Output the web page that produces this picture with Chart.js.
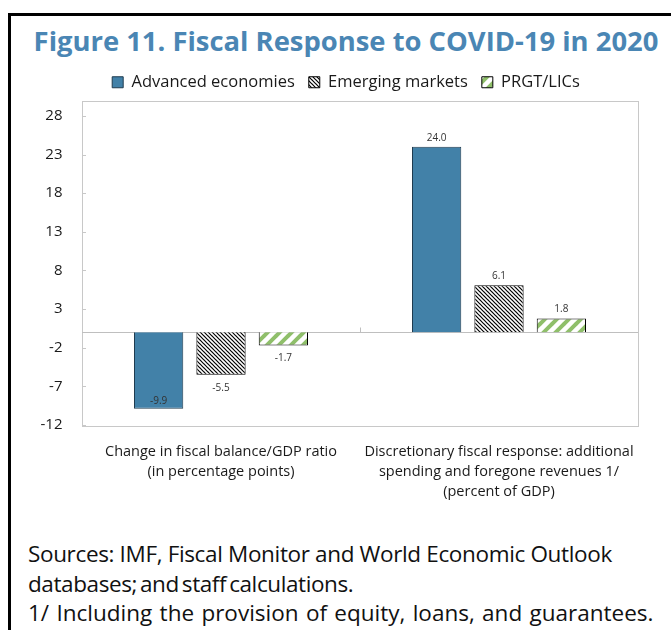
<!DOCTYPE html>
<html>
<head>
<meta charset="utf-8">
<script src="https://cdn.jsdelivr.net/npm/chart.js@4"></script>
<style>
  html, body { margin: 0; padding: 0; background: #fff; }
  body { width: 671px; height: 630px; position: relative; overflow: hidden; font-family: "Open Sans", sans-serif; }
  #frame { position: absolute; left: 8px; top: 13px; width: 700px; height: 700px; border-left: 3px solid #000; border-top: 3px solid #000; }
  #title { position: absolute; left: 0; top: 26px; width: 692px; text-align: center; font-size: 27.4px; line-height: 30px; font-weight: bold; color: #4a86b4; white-space: nowrap; }
  #wrap { position: absolute; left: 0; top: 0; width: 671px; height: 520px; }
  #note { position: absolute; left: 28px; top: 539px; font-size: 22.5px; line-height: 29.5px; color: #111; white-space: nowrap; }
  #note span { display: block; }
  #l1 { letter-spacing: -0.35px; word-spacing: 0px; }
  #l2 { letter-spacing: -0.4px; word-spacing: -2.5px; }
  #l3 { letter-spacing: 0px; word-spacing: 1.5px; }
</style>
</head>
<body>
<div id="frame"></div>
<div id="title">Figure 11. Fiscal Response to COVID-19 in 2020</div>
<div id="wrap"><canvas id="c"></canvas></div>
<div id="note"><span id="l1">Sources: IMF, Fiscal Monitor and World Economic Outlook</span><span id="l2">databases; and staff calculations.</span><span id="l3">1/ Including the provision of equity, loans, and guarantees.</span></div>
<script>
const categories = [
  ["Change in fiscal balance/GDP ratio", "(in percentage points)"],
  ["Discretionary fiscal response: additional", "spending and foregone revenues 1/", "(percent of GDP)"]
];
const seriesNames = ["Advanced economies", "Emerging markets", "PRGT/LICs"];
const advanced = [-9.9, 24.0];
const emerging = [-5.5, 6.1];
const prgt = [-1.7, 1.8];
const yTicks = [-12, -7, -2, 3, 8, 13, 18, 23, 28];

function hatch(dir, size, color, width, bg) {
  const c = document.createElement('canvas');
  c.width = size; c.height = size;
  const g = c.getContext('2d');
  g.fillStyle = bg; g.fillRect(0, 0, size, size);
  g.strokeStyle = color; g.lineWidth = width; g.lineCap = 'square';
  g.beginPath();
  for (const k of [-size, 0, size]) {
    if (dir === 'back') { g.moveTo(k, 0); g.lineTo(k + size, size); }
    else { g.moveTo(k, size); g.lineTo(k + size, 0); }
  }
  g.stroke();
  return g.createPattern(c, 'repeat');
}
const blackHatch = hatch('back', 4, '#000', 1.2, '#fff');
const greenHatch = hatch('fwd', 12, '#8fbf6a', 4, '#fff');

const frameBox = {
  id: 'frameBox',
  beforeDatasetsDraw(chart) {
    const a = chart.chartArea, ctx = chart.ctx;
    ctx.save();
    ctx.strokeStyle = '#c8c8c8'; ctx.lineWidth = 1;
    ctx.strokeRect(Math.round(a.left) + 0.5, Math.round(a.top) + 0.5, Math.round(a.right - a.left), Math.round(a.bottom - a.top));
    const y = chart.scales.y, x = chart.scales.x;
    y.ticks.forEach(t => {
      const py = Math.round(y.getPixelForValue(t.value)) + 0.5;
      ctx.beginPath(); ctx.moveTo(a.left, py); ctx.lineTo(a.left + 4, py); ctx.stroke();
    });
    const z = Math.round(y.getPixelForValue(0)) + 0.5;
    ctx.strokeStyle = '#bfbfbf';
    ctx.beginPath(); ctx.moveTo(a.left, z); ctx.lineTo(a.right, z); ctx.stroke();
    const mid = Math.round((x.getPixelForValue(0) + x.getPixelForValue(1)) / 2) + 0.5;
    ctx.beginPath(); ctx.moveTo(mid, z - 5); ctx.lineTo(mid, z); ctx.stroke();
    ctx.restore();
  }
};

const valueLabels = {
  id: 'valueLabels',
  afterDatasetsDraw(chart) {
    const ctx = chart.ctx;
    ctx.save();
    ctx.font = '10px "Open Sans"';
    ctx.fillStyle = '#333';
    ctx.textAlign = 'center';
    chart.data.datasets.forEach((ds, di) => {
      chart.getDatasetMeta(di).data.forEach((el, i) => {
        const v = ds.data[i];
        const txt = v.toFixed(1);
        if (v >= 0) { ctx.textBaseline = 'bottom'; ctx.fillText(txt, el.x, el.y - 4); }
        else if (di === 0) { ctx.textBaseline = 'bottom'; ctx.fillText(txt, el.x, el.y - 3); }
        else { ctx.textBaseline = 'top'; ctx.fillText(txt, el.x, el.y + 8); }
      });
    });
    ctx.restore();
  }
};

new Chart(document.getElementById('c'), {
  type: 'bar',
  data: {
    labels: categories,
    datasets: [
      { label: seriesNames[0], data: advanced, backgroundColor: '#4281a8', borderColor: '#1f3b4f', borderWidth: 1 },
      { label: seriesNames[1], data: emerging, backgroundColor: blackHatch, borderColor: '#000', borderWidth: 1 },
      { label: seriesNames[2], data: prgt, backgroundColor: greenHatch, borderColor: '#000', borderWidth: 1 }
    ]
  },
  options: {
    responsive: true,
    maintainAspectRatio: false,
    animation: false,
    layout: { padding: { left: 54, right: 33, top: 60, bottom: 0 } },
    datasets: { bar: { categoryPercentage: 0.673, barPercentage: 0.79 } },
    plugins: {
      title: { display: false },
      legend: {
        position: 'top',
        labels: {
          color: '#1a1a1a',
          font: { family: '"Open Sans"', size: 16.5 },
          boxWidth: 11, boxHeight: 11, padding: 14
        }
      },
      tooltip: { enabled: false }
    },
    scales: {
      x: {
        grid: { display: false },
        border: { display: false },
        ticks: { color: '#1a1a1a', font: { family: '"Open Sans"', size: 14.5, lineHeight: 1.38 }, padding: 9, maxRotation: 0, autoSkip: false },
        afterFit(s) { s.height = 95; }
      },
      y: {
        min: -12,
        max: 30,
        afterBuildTicks(s) { s.ticks = yTicks.map(v => ({ value: v })); },
        grid: { display: false },
        border: { display: false },
        ticks: { color: '#1a1a1a', font: { family: '"Open Sans"', size: 15 }, mirror: true, crossAlign: 'far', padding: -41.5 },
        afterFit(s) { s.width = 28; }
      }
    }
  },
  plugins: [frameBox, valueLabels]
});
</script>
</body>
</html>
